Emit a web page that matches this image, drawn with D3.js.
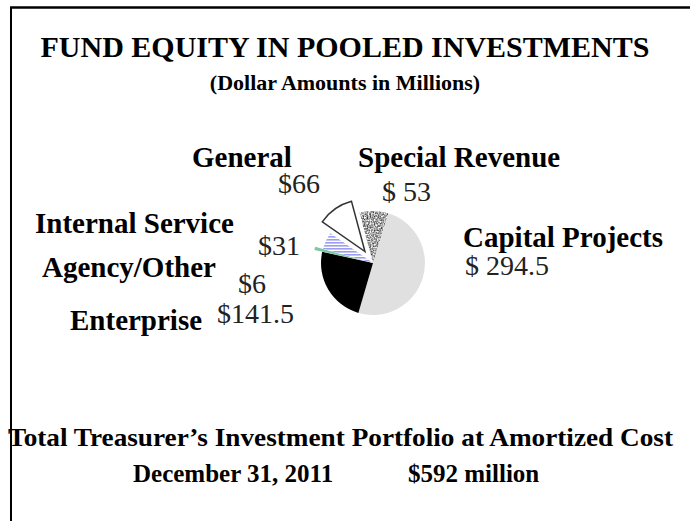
<!DOCTYPE html>
<html>
<head>
<meta charset="utf-8">
<script src="https://cdn.jsdelivr.net/npm/d3@7"></script>
<style>
  body { margin: 0; background: #fff; }
  text { font-family: "Liberation Serif", "Times New Roman", serif; }
</style>
</head>
<body>
<div id="chart"></div>
<script>
// fund data, in millions
const funds = ["Special Revenue", "Capital Projects", "Enterprise", "Agency/Other", "Internal Service", "General"];
const amounts = [53, 294.5, 141.5, 6, 31, 66];
const amountLabels = ["$ 53", "$ 294.5", "$141.5", "$6", "$31", "$66"];

// where the labels sit (x of start, baseline)
const namePos = [[358, 167], [463, 247], [70, 330], [42, 277], [35, 233], [192, 167]];
const valuePos = [[382, 201], [465, 275], [217, 323], [238, 293], [258, 255], [278, 193]];
const explode = [0, 0, 0, 8, 0, 14];

const width = 690, height = 521;
const cx = 373, cy = 263, radius = 52;

const svg = d3.select("#chart").append("svg")
  .attr("width", width)
  .attr("height", height);

const defs = svg.append("defs");

// horizontal stripes for internal service
const stripes = defs.append("pattern")
  .attr("id", "stripes")
  .attr("patternUnits", "userSpaceOnUse")
  .attr("width", 6)
  .attr("height", 3);
stripes.append("rect").attr("width", 6).attr("height", 3).attr("fill", "#fff");
stripes.append("rect").attr("width", 6).attr("height", 1.6).attr("fill", "#9c9cf0");

// speckled grey for special revenue
const speckle = defs.append("filter").attr("id", "speckle")
  .attr("color-interpolation-filters", "sRGB")
  .attr("x", "0%").attr("y", "0%").attr("width", "100%").attr("height", "100%");
speckle.append("feTurbulence")
  .attr("type", "fractalNoise")
  .attr("baseFrequency", 0.7)
  .attr("numOctaves", 2)
  .attr("seed", 3)
  .attr("result", "noise");
speckle.append("feColorMatrix")
  .attr("in", "noise")
  .attr("type", "matrix")
  .attr("values", "1.4 0 0 0 -0.05  1.4 0 0 0 -0.05  1.4 0 0 0 -0.05  0 0 0 0 1")
  .attr("result", "grey");
speckle.append("feComposite")
  .attr("in", "grey")
  .attr("in2", "SourceGraphic")
  .attr("operator", "in");

const fills = ["#a8a8a8", "#e0e0e0", "#000", "#7cc8a2", "url(#stripes)", "#fff"];

// frame: left and top rules
svg.append("line")
  .attr("x1", 11).attr("y1", 7).attr("x2", 11).attr("y2", height)
  .attr("stroke", "#000").attr("stroke-width", 2);
svg.append("line")
  .attr("x1", 10).attr("y1", 7.5).attr("x2", width).attr("y2", 7.5)
  .attr("stroke", "#000").attr("stroke-width", 2.5);

// titles
svg.append("text")
  .attr("x", 345).attr("y", 57)
  .attr("text-anchor", "middle")
  .attr("font-size", 30).attr("font-weight", "bold")
  .text("FUND EQUITY IN POOLED INVESTMENTS");
svg.append("text")
  .attr("x", 345).attr("y", 90)
  .attr("text-anchor", "middle")
  .attr("font-size", 22).attr("font-weight", "bold")
  .text("(Dollar Amounts in Millions)");

// pie
const pie = d3.pie()
  .sort(null)
  .startAngle(-15 * Math.PI / 180)
  .endAngle(345 * Math.PI / 180);
const arc = d3.arc().innerRadius(0).outerRadius(radius);
const arcs = pie(amounts);

const pieG = svg.append("g").attr("transform", `translate(${cx},${cy})`);

pieG.selectAll("path")
  .data(arcs)
  .join("path")
  .attr("transform", (d, i) => {
    const a = (d.startAngle + d.endAngle) / 2;
    return `translate(${Math.sin(a) * explode[i]},${-Math.cos(a) * explode[i]})`;
  })
  .attr("d", arc)
  .attr("fill", (d, i) => fills[i])
  .attr("filter", (d, i) => i === 0 ? "url(#speckle)" : null)
  .attr("stroke", (d, i) => i === 5 ? "#333" : "none")
  .attr("stroke-width", 1.5);

// labels
svg.append("g").selectAll("text")
  .data(funds)
  .join("text")
  .attr("x", (d, i) => namePos[i][0])
  .attr("y", (d, i) => namePos[i][1])
  .attr("font-size", 29)
  .attr("font-weight", "bold")
  .text(d => d);

svg.append("g").selectAll("text")
  .data(amountLabels)
  .join("text")
  .attr("x", (d, i) => valuePos[i][0])
  .attr("y", (d, i) => valuePos[i][1])
  .attr("font-size", 28)
  .attr("fill", "#222")
  .text(d => d);

// footer
svg.append("text")
  .attr("x", 8).attr("y", 446)
  .attr("font-size", 26).attr("font-weight", "bold")
  .attr("textLength", 665)
  .attr("lengthAdjust", "spacingAndGlyphs")
  .text("Total Treasurer\u2019s Investment Portfolio at Amortized Cost");
svg.append("text")
  .attr("x", 133).attr("y", 482)
  .attr("font-size", 25).attr("font-weight", "bold")
  .text("December 31, 2011");
svg.append("text")
  .attr("x", 408).attr("y", 482)
  .attr("font-size", 25).attr("font-weight", "bold")
  .text("$592 million");
</script>
</body>
</html>
